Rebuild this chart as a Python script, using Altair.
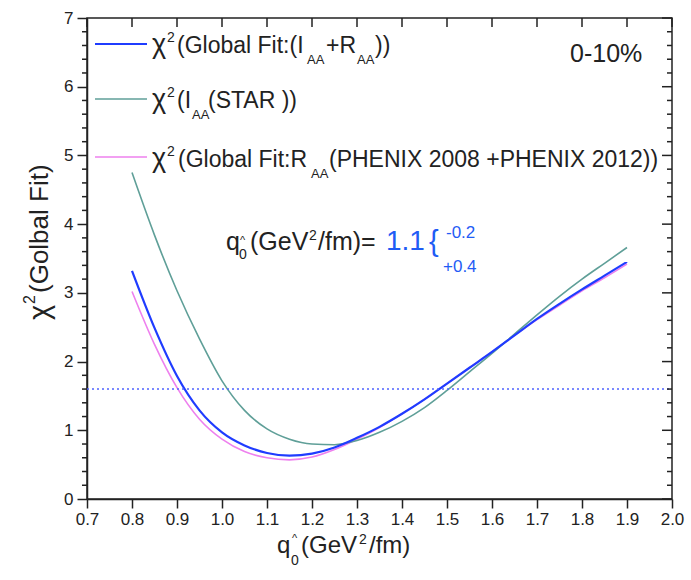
import altair as alt
import pandas as pd

# ---------------- data ----------------
q_values = [0.80, 0.85, 0.90, 0.95, 1.00, 1.05, 1.10, 1.15, 1.20, 1.25, 1.30, 1.35,
            1.40, 1.45, 1.50, 1.55, 1.60, 1.65, 1.70, 1.75, 1.80, 1.85, 1.90]
chi_global = [3.32, 2.49, 1.79, 1.29, 0.97, 0.78, 0.67, 0.63, 0.66, 0.75, 0.89, 1.05,
              1.24, 1.45, 1.68, 1.91, 2.14, 2.38, 2.62, 2.84, 3.05, 3.25, 3.45]
chi_star = [4.75, 3.84, 3.03, 2.33, 1.72, 1.29, 1.02, 0.87, 0.80, 0.79, 0.85, 0.97,
            1.13, 1.33, 1.58, 1.85, 2.12, 2.40, 2.68, 2.95, 3.20, 3.43, 3.66]
chi_phenix = [3.02, 2.25, 1.62, 1.16, 0.87, 0.69, 0.60, 0.57, 0.61, 0.72, 0.87, 1.04,
              1.24, 1.45, 1.68, 1.91, 2.14, 2.38, 2.61, 2.82, 3.03, 3.22, 3.42]
threshold = [1.6]
x_ticks = [0.7, 0.8, 0.9, 1.0, 1.1, 1.2, 1.3, 1.4, 1.5, 1.6, 1.7, 1.8, 1.9, 2.0]
y_major = [0, 1, 2, 3, 4, 5, 6, 7]
y_minor = [round(0.2 * i, 1) for i in range(36) if i % 5 != 0]

# ---------------- layout ----------------
PADL, PADT, W, H = 87, 18, 585, 481
INK = "#222222"
FONT = "Liberation Sans"
C_GLOBAL = "#1f3cff"
C_STAR = "#5f9f98"
C_PHENIX = "#ee80ee"
C_NOTE = "#1f5cf5"

df = pd.DataFrame({"q": q_values, "g": chi_global, "s": chi_star, "p": chi_phenix})
thr = pd.DataFrame({"t": threshold})
xt = pd.DataFrame({"v": x_ticks})
ymaj = pd.DataFrame({"v": y_major})
ymin = pd.DataFrame({"v": y_minor})
anchor = pd.DataFrame({"a": [0]})

xscale = alt.Scale(domain=[0.7, 2.0], nice=False, zero=False)
yscale = alt.Scale(domain=[0, 7], nice=False, zero=False)

xaxis = alt.Axis(values=x_ticks, format=".1f", tickSize=9, tickWidth=1.5, tickColor=INK,
                 domainColor=INK, domainWidth=1.5, labelFontSize=17, labelFont=FONT,
                 labelColor=INK, labelPadding=3, labelFlush=False, labelOverlap=False,
                 grid=False, title="")
yaxis = alt.Axis(values=y_major, format="d", tickSize=10, tickWidth=1.5, tickColor=INK,
                 domainColor=INK, domainWidth=1.5, labelFontSize=17, labelFont=FONT,
                 labelColor=INK, labelPadding=4, labelOverlap=False, grid=False, title="")


def X(field):
    return alt.X(f"{field}:Q", scale=xscale, axis=xaxis)


def Y(field):
    return alt.Y(f"{field}:Q", scale=yscale, axis=yaxis)


base = alt.Chart(df)


def line(field, color, width):
    return base.mark_line(interpolate="monotone", color=color, strokeWidth=width).encode(
        x=X("q"), y=Y(field)
    )


def txt(s, x, y, size, color=INK, angle=0):
    return alt.Chart(anchor).mark_text(
        text=s, fontSize=size, color=color, font=FONT, angle=angle,
        align="left", baseline="alphabetic"
    ).encode(x=alt.value(x - PADL), y=alt.value(y - PADT))


def seg(x1, x2, y, color, width):
    return alt.Chart(anchor).mark_rule(color=color, strokeWidth=width).encode(
        x=alt.value(x1 - PADL), x2=alt.value(x2 - PADL), y=alt.value(y - PADT)
    )


layers = [
    line("p", C_PHENIX, 1.6),
    line("s", C_STAR, 1.6),
    line("g", C_GLOBAL, 2.2),
    alt.Chart(thr).mark_rule(color="#4f63ff", strokeDash=[2, 3], strokeWidth=1.4).encode(
        y=Y("t"), x=alt.value(0), x2=alt.value(W)
    ),
    # top ticks (inward)
    alt.Chart(xt).mark_rule(color=INK, strokeWidth=1.5).encode(
        x=X("v"), y=alt.value(0), y2=alt.value(9)
    ),
    # right major ticks (inward)
    alt.Chart(ymaj).mark_rule(color=INK, strokeWidth=1.5).encode(
        y=Y("v"), x=alt.value(W - 10), x2=alt.value(W)
    ),
    # right minor ticks
    alt.Chart(ymin).mark_rule(color=INK, strokeWidth=1.5).encode(
        y=Y("v"), x=alt.value(W - 5), x2=alt.value(W)
    ),
    # left minor ticks (outward)
    alt.Chart(ymin).mark_rule(color=INK, strokeWidth=1.5).encode(
        y=Y("v"), x=alt.value(-5), x2=alt.value(0)
    ),
    # legend
    seg(95, 147, 44, C_GLOBAL, 2.2),
    txt("χ", 152, 53, 27), txt("2", 167, 42, 14), txt("(Global Fit:(I", 177, 53, 23),
    txt("AA", 307, 64, 13), txt("+R", 326, 53, 23), txt("AA", 357, 64, 13), txt("))", 375, 53, 23),
    seg(95, 147, 99, C_STAR, 1.6),
    txt("χ", 152, 108, 27), txt("2", 167, 97, 14), txt("(I", 177, 108, 23),
    txt("AA", 192, 119, 13), txt("(STAR ))", 208, 108, 23),
    seg(95, 147, 157, C_PHENIX, 1.6),
    txt("χ", 152, 167, 27), txt("2", 167, 156, 14), txt("(Global Fit:R", 178, 167, 23),
    txt("AA", 311, 178, 13), txt("(PHENIX 2008 +PHENIX 2012))", 329, 167, 23),
    txt("0-10%", 570, 62, 25),
    # annotation
    txt("q", 226, 250, 25), txt("^", 240, 244, 11), txt("0", 239, 259, 14),
    txt("(GeV", 250, 250, 25), txt("2", 309, 240, 14), txt("/fm)=", 318, 250, 25),
    txt("1.1", 386, 250, 28, color=C_NOTE),
    txt("{", 429, 251, 29, color=C_NOTE),
    txt("-0.2", 446, 238, 17, color=C_NOTE),
    txt("+0.4", 443, 272, 17, color=C_NOTE),
    # x axis title
    txt("q", 277, 553, 24), txt("^", 292, 542, 11), txt("0", 291, 565, 14),
    txt("(GeV", 301, 553, 24), txt("2", 359, 544, 14), txt("/fm)", 369, 553, 24),
    # y axis title (rotated)
    txt("χ", 49, 320, 29, angle=270), txt("2", 35, 304, 16, angle=270),
    txt("(Golbal Fit)", 48, 293, 26, angle=270),
]

chart = alt.layer(*layers).properties(
    width=W, height=H, autosize="none",
    padding={"left": PADL, "top": PADT, "right": 691 - PADL - W, "bottom": 580 - PADT - H},
    background="white",
).configure_view(stroke=INK, strokeWidth=1.5)

chart.save("out.html", embed_options={"renderer": "svg", "actions": False})
